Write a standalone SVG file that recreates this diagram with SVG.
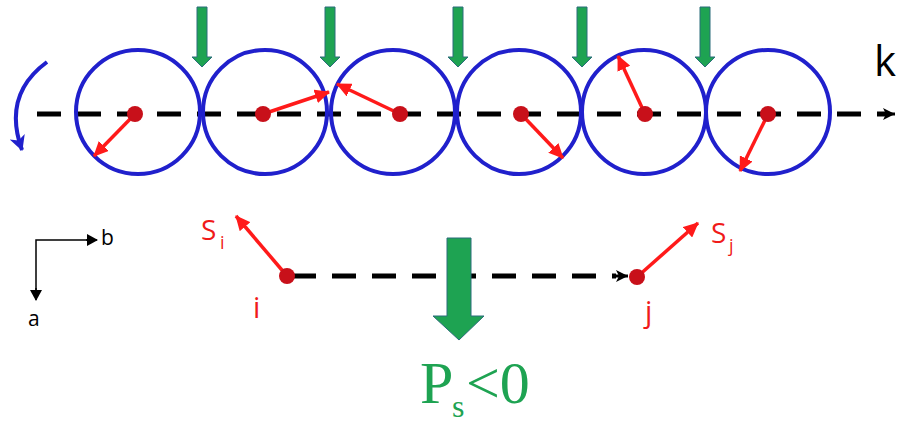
<svg xmlns="http://www.w3.org/2000/svg" width="898" height="423" viewBox="0 0 898 423">
<defs>
<style>
.ring{fill:none;stroke:#2020cc;stroke-width:4}
.dot{fill:#c8101a}
.spin{stroke:#ff1a1a;stroke-width:3.5;fill:none;marker-end:url(#ra)}
.dash{stroke:#000;stroke-width:5;stroke-dasharray:24 16;fill:none}
.garrow{fill:#1ea352;stroke:#2b6d7a;stroke-width:1}
.red{font-family:"Open Sans","Liberation Sans",sans-serif;fill:#f01a1a}
.blk{font-family:"Open Sans","Liberation Sans",sans-serif;fill:#000}
.gtxt{font-family:"Liberation Serif",serif;fill:#1ea352}
</style>
<marker id="ra" markerUnits="userSpaceOnUse" markerWidth="16" markerHeight="14" refX="14" refY="7" orient="auto">
<path d="M0,0 L15,7 L0,14 Z" fill="#ff1a1a"/>
</marker>
<marker id="ka" markerUnits="userSpaceOnUse" markerWidth="14" markerHeight="14" refX="12" refY="7" orient="auto">
<path d="M0,1 L12,7 L0,13 L3,7 Z" fill="#000"/>
</marker>
<marker id="ta" markerUnits="userSpaceOnUse" markerWidth="12" markerHeight="12" refX="10" refY="6" orient="auto">
<path d="M0,0 L11,6 L0,12 Z" fill="#000"/>
</marker>
<marker id="ba" markerUnits="userSpaceOnUse" markerWidth="18" markerHeight="18" refX="14" refY="9" orient="auto">
<path d="M0,1 L15,9 L0,17 L4,9 Z" fill="#2020cc"/>
</marker>
</defs>

<g id="connectors">
<line class="dash" x1="37" y1="114" x2="886" y2="114"/>
<line x1="884" y1="114" x2="895" y2="114" stroke="#000" stroke-width="3" marker-end="url(#ka)"/>
<line class="dash" x1="292" y1="276" x2="616" y2="276" stroke-width="4" stroke-dasharray="20 14"/>
<line x1="612" y1="276" x2="628" y2="276" stroke="#000" stroke-width="3" marker-end="url(#ka)"/>
<path d="M47,62 Q2,95 22,150" fill="none" stroke="#2020cc" stroke-width="4" marker-end="url(#ba)"/>
</g>

<g id="site1"><circle class="ring" cx="138" cy="112" r="62"/><line class="spin" x1="135" y1="114" x2="94" y2="156"/><circle class="dot" cx="135" cy="114" r="8"/></g>
<g id="site2"><circle class="ring" cx="265" cy="112" r="62"/><line class="spin" x1="263" y1="114" x2="329" y2="92"/><circle class="dot" cx="263" cy="114" r="8"/></g>
<g id="site3"><circle class="ring" cx="393" cy="112" r="62"/><line class="spin" x1="400" y1="114" x2="337" y2="84"/><circle class="dot" cx="400" cy="114" r="8"/></g>
<g id="site4"><circle class="ring" cx="519" cy="112" r="62"/><line class="spin" x1="521" y1="114" x2="563" y2="158"/><circle class="dot" cx="521" cy="114" r="8"/></g>
<g id="site5"><circle class="ring" cx="644" cy="112" r="62"/><line class="spin" x1="645" y1="114" x2="618" y2="56"/><circle class="dot" cx="645" cy="114" r="8"/></g>
<g id="site6"><circle class="ring" cx="768" cy="112" r="62"/><line class="spin" x1="768" y1="114" x2="740" y2="171"/><circle class="dot" cx="768" cy="114" r="8"/></g>

<g id="green-arrows">
<path class="garrow" d="M197,7 H207 V57 H212 L202,67 L192,57 H197 Z"/>
<path class="garrow" d="M325,7 H335 V57 H340 L330,67 L320,57 H325 Z"/>
<path class="garrow" d="M453,7 H463 V57 H468 L458,67 L448,57 H453 Z"/>
<path class="garrow" d="M577,7 H587 V57 H592 L582,67 L572,57 H577 Z"/>
<path class="garrow" d="M700,7 H710 V57 H715 L705,67 L695,57 H700 Z"/>
</g>

<text class="blk" x="874" y="76" font-size="42">k</text>

<g id="axes">
<polyline points="89,240 36,240 36,290" fill="none" stroke="#000" stroke-width="1.5"/>
<line x1="86" y1="240" x2="97" y2="240" stroke="#000" stroke-width="1.5" marker-end="url(#ta)"/>
<line x1="36" y1="288" x2="36" y2="300" stroke="#000" stroke-width="1.5" marker-end="url(#ta)"/>
<text class="blk" x="101" y="245" font-size="21">b</text>
<text class="blk" x="28" y="326" font-size="21">a</text>
</g>

<g id="node-i">
<line class="spin" x1="287" y1="276" x2="236" y2="216"/>
<circle class="dot" cx="287" cy="276" r="8"/>
<text class="red" x="201" y="240" font-size="28">S</text>
<text class="red" x="220" y="249" font-size="18">i</text>
<text class="red" x="253" y="318" font-size="29">i</text>
</g>

<g id="node-j">
<line class="spin" x1="637" y1="277" x2="698" y2="223"/>
<circle class="dot" cx="637" cy="277" r="8"/>
<text class="red" x="711" y="243" font-size="28">S</text>
<text class="red" x="729" y="252" font-size="18">j</text>
<text class="red" x="645" y="322" font-size="29">j</text>
</g>

<g id="result">
<path class="garrow" d="M447,238 H471 V316 H484 L459,340 L433,316 H447 Z"/>
<text class="gtxt" x="420" y="403" font-size="60">P</text>
<text class="gtxt" x="452" y="417" font-size="32">s</text>
<text class="gtxt" x="466" y="403" font-size="60">&lt;0</text>
</g>
</svg>
